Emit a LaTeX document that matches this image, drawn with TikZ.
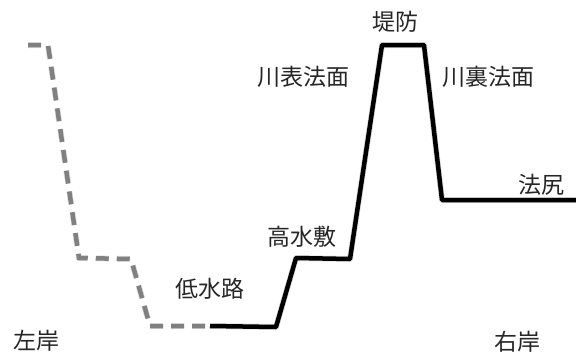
\documentclass[tikz,border=0pt]{standalone}
\usepackage{fontspec}
\newfontfamily\jp{Noto Sans CJK JP}
\begin{document}
\begin{tikzpicture}[x=1pt,y=-1pt,
  lbl/.style={font=\jp\fontsize{23}{26}\selectfont, text=black!85, inner sep=0pt},
  bank/.style={line width=4.5pt, line join=round, draw=black},
  oldbank/.style={line width=4.5pt, draw=black!50, dash pattern=on 13pt off 8pt},
  shade/.style={line width=6pt, draw=black, opacity=0.12, line join=round}]
\useasboundingbox (0,0) rectangle (576,354);
% profile points
\coordinate (p0) at (28,45);
\coordinate (p1) at (48,45);
\coordinate (p2) at (79,258);
\coordinate (p3) at (131,259);
\coordinate (p4) at (150,326);
\coordinate (p5) at (210,326);
\coordinate (p6) at (276,327);
\coordinate (p7) at (296,258);
\coordinate (p8) at (350,259);
\coordinate (p9) at (382,45);
\coordinate (p10) at (424,45);
\coordinate (p11) at (442,200);
\coordinate (p12) at (576,200);
% shadows
\begin{scope}[shift={(2,2.5)}]
\draw[shade, dash pattern=on 13pt off 8pt] (p0) -- (p1) -- (p2) -- (p3) -- (p4) -- (p5);
\draw[shade] (p5) -- (p6) -- (p7) -- (p8) -- (p9) -- (p10) -- (p11) -- (p12);
\end{scope}
% lines
\draw[oldbank] (p0) -- (p1) -- (p2) -- (p3) -- (p4) -- (p5);
\draw[bank] (p5) -- (p6) -- (p7) -- (p8) -- (p9) -- (p10) -- (p11) -- (p12);
% labels
\node[lbl] (teibo) at (395,22) {堤防};
\node[lbl] (omote) at (303,77) {川表法面};
\node[lbl] (ura) at (488,77) {川裏法面};
\node[lbl] (hojiri) at (541,185) {法尻};
\node[lbl] (kosui) at (302,237) {高水敷};
\node[lbl] (teisui) at (210,289) {低水路};
\node[lbl] (sagan) at (36,341) {左岸};
\node[lbl] (ugan) at (517,342) {右岸};
\end{tikzpicture}
\end{document}
